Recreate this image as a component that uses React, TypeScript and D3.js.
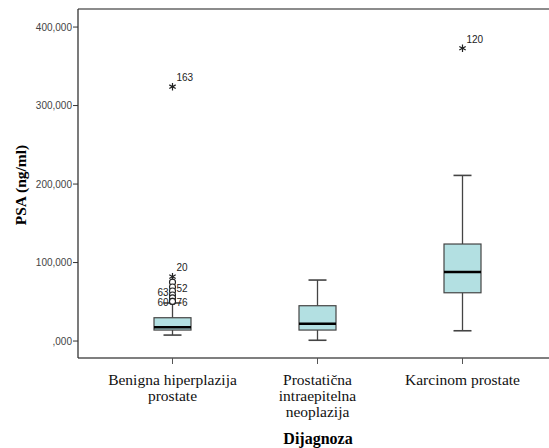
import React from 'react';
import * as d3 from 'd3';

// box summaries per diagnosis (PSA ng/ml)
const categories = ["Benigna hiperplazija prostate", "Prostatična intraepitelna neoplazija", "Karcinom prostate"];
const categoryLines = [["Benigna hiperplazija", "prostate"], ["Prostatična", "intraepitelna", "neoplazija"], ["Karcinom prostate"]];
const whiskerLow = [7600, 1000, 13100];
const q1 = [14000, 14000, 61500];
const median = [17500, 22000, 87900];
const q3 = [29700, 45000, 123600];
const whiskerHigh = [48500, 77700, 211000];

// outliers: category index, value, case id, kind
const outlierCat = [0, 0, 0, 0, 0, 0, 0, 0, 0, 2];
const outlierValue = [324000, 82000, 75000, 68800, 63700, 58600, 55000, 50500, 50500, 373000];
const outlierId = ["163", "20", "", "52", "63", "", "", "76", "60", "120"];
const outlierKind = ["extreme", "extreme", "mild", "mild", "mild", "mild", "mild", "mild", "mild", "extreme"];

const yTicks = [0, 100000, 200000, 300000, 400000];

const W = 549, H = 448;
const margin = { top: 9, left: 78, bottom: 90, right: 0 };
const serif = "'Liberation Serif', 'Times New Roman', serif";
const sans = "'Liberation Sans', Arial, sans-serif";

export default function App() {
  const y = d3.scaleLinear().domain([-21600, 423000]).range([H - margin.bottom, margin.top]);
  const x = d3.scaleBand().domain(categories).range([100, 535]);
  const fmt = (v: number) => v === 0 ? ",000" : d3.format(",")(v);
  const boxW = 37, capW = 18;
  const asterisk = d3.symbol().type(d3.symbolAsterisk).size(38);
  const bottom = H - margin.bottom;

  return (
    <svg width={W} height={H} style={{ position: 'absolute', left: 0, top: 0, background: '#fff' }}>
      {/* frame */}
      <line x1={margin.left} x2={W} y1={margin.top} y2={margin.top} stroke="#666" strokeWidth={1.5} />
      <line x1={margin.left} x2={W} y1={bottom} y2={bottom} stroke="#555" strokeWidth={1.5} />
      <line x1={margin.left} x2={margin.left} y1={margin.top} y2={bottom} stroke="#333" strokeWidth={1.3} />

      {/* y axis */}
      {yTicks.map(t => (
        <g key={t}>
          <line x1={margin.left - 5} x2={margin.left} y1={y(t)} y2={y(t)} stroke="#333" />
          <text x={margin.left - 6} y={y(t)} dy="0.35em" textAnchor="end" style={{ fontFamily: sans }} fontSize={10} fill="#444">{fmt(t)}</text>
        </g>
      ))}
      <text transform={`translate(21,185) rotate(-90)`} dy="0.35em" textAnchor="middle" style={{ fontFamily: serif }} fontWeight="bold" fontSize={15.5}>PSA (ng/ml)</text>

      {/* x axis */}
      {categories.map((c, i) => {
        const cx = x(c)! + x.bandwidth() / 2;
        return (
          <g key={c}>
            <line x1={cx} x2={cx} y1={bottom} y2={bottom + 6} stroke="#555" />
            {categoryLines[i].map((l, j) => (
              <text key={j} x={cx} y={385 + j * 16} textAnchor="middle" style={{ fontFamily: serif }} fontSize={15.5} fill="#111">{l}</text>
            ))}
          </g>
        );
      })}
      <text x={318} y={444} textAnchor="middle" style={{ fontFamily: serif }} fontWeight="bold" fontSize={16}>Dijagnoza</text>

      {/* boxes */}
      {categories.map((c, i) => {
        const cx = x(c)! + x.bandwidth() / 2;
        return (
          <g key={c}>
            <line x1={cx} x2={cx} y1={y(whiskerLow[i])} y2={y(q1[i])} stroke="#444" strokeWidth={1.3} />
            <line x1={cx} x2={cx} y1={y(q3[i])} y2={y(whiskerHigh[i])} stroke="#444" strokeWidth={1.3} />
            <line x1={cx - capW / 2} x2={cx + capW / 2} y1={y(whiskerLow[i])} y2={y(whiskerLow[i])} stroke="#444" strokeWidth={1.6} />
            <line x1={cx - capW / 2} x2={cx + capW / 2} y1={y(whiskerHigh[i])} y2={y(whiskerHigh[i])} stroke="#444" strokeWidth={1.6} />
            <rect x={cx - boxW / 2} y={y(q3[i])} width={boxW} height={y(q1[i]) - y(q3[i])} fill="#b3e0e2" stroke="#444" strokeWidth={1.2} />
            <line x1={cx - boxW / 2} x2={cx + boxW / 2} y1={y(median[i])} y2={y(median[i])} stroke="#000" strokeWidth={2.4} />
          </g>
        );
      })}

      {/* outliers */}
      {outlierValue.map((v, k) => {
        const cx = x(categories[outlierCat[k]])! + x.bandwidth() / 2;
        const cy = y(v);
        const left = outlierId[k] === "63" || outlierId[k] === "60";
        const extreme = outlierKind[k] === "extreme";
        return (
          <g key={k}>
            {extreme
              ? <path d={asterisk()!} transform={`translate(${cx},${cy})`} fill="none" stroke="#222" strokeWidth={1.2} />
              : <circle cx={cx} cy={cy} r={3} fill="#fff" stroke="#222" strokeWidth={1.1} />}
            {outlierId[k] && (
              <text x={left ? cx - 4 : cx + 4} y={extreme ? cy - 9 : cy + 1} dy="0.35em" textAnchor={left ? "end" : "start"}
                style={{ fontFamily: sans }} fontSize={10} fill="#222">{outlierId[k]}</text>
            )}
          </g>
        );
      })}
    </svg>
  );
}
